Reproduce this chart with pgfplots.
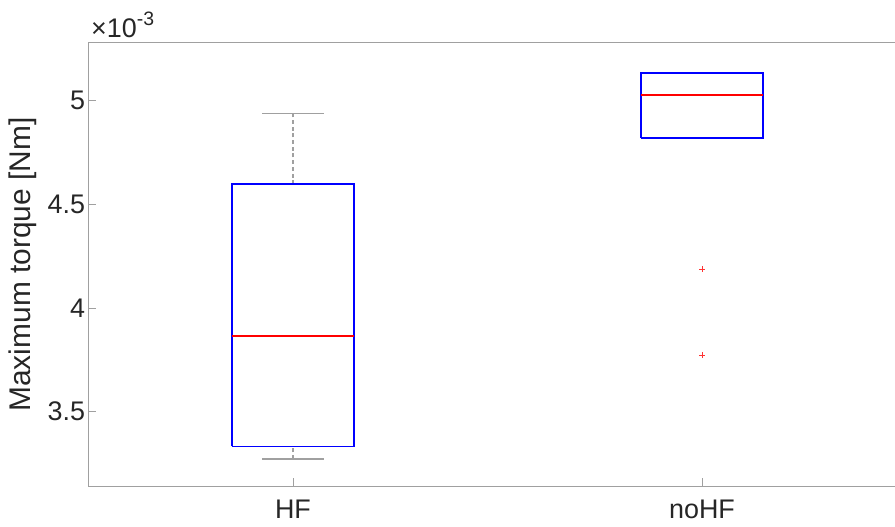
\documentclass[border=0pt]{standalone}
\usepackage{fontspec}
\setmainfont{Liberation Sans}
\usepackage{pgfplots}
\pgfplotsset{compat=1.18}

\definecolor{axgray}{RGB}{160,160,160}
\definecolor{txt}{RGB}{38,38,38}
\definecolor{boxblue}{RGB}{0,0,255}
\definecolor{medred}{RGB}{255,0,0}
\definecolor{capblue}{RGB}{30,30,165}

\begin{document}
\begin{tikzpicture}
\begin{axis}[
  scale only axis,
  width=818bp, height=443.8bp,
  xmin=0.5, xmax=2.5,
  ymin=0.003139, ymax=0.005280,
  axis x line*=box, axis y line*=left,
  xtick={1,2}, xticklabels={HF,noHF},
  ytick={0.0035,0.004,0.0045,0.005},
  scaled y ticks=base 10:3,
  ytick scale label code/.code={\fontsize{27}{32}\selectfont ×10\raisebox{12bp}{\fontsize{19.5}{22}\selectfont -3}},
  every y tick scale label/.style={at={(axis description cs:0,1)}, anchor=base west, inner sep=0pt, xshift=2.5bp, yshift=5bp, color=txt},
  /pgf/number format/assume math mode=true,
  tick label style={font=\fontsize{27}{32}\selectfont, color=txt},
  xticklabel style={yshift=-10bp},
  xtick pos=bottom, ytick pos=left,
  tick align=inside,
  major tick length=8bp,
  tick style={axgray, line width=0.8bp},
  axis line style={axgray, line width=1bp},
  ylabel={Maximum torque [Nm]},
  every axis y label/.style={at={(axis description cs:0,0.5)}, rotate=90, anchor=center, yshift=65.5bp, font=\fontsize{30}{34}\selectfont, color=txt},
  whisk/.style={axgray, line width=1.3bp, dash pattern=on 4bp off 2.7bp, no markers},
  cap/.style={axgray, line width=1.3bp, no markers},
  boxline/.style={boxblue, line width=1.8bp, no markers},
  median/.style={medred, line width=1.8bp, no markers},
]
% whiskers
\addplot[whisk] coordinates {(1,0.004597) (1,0.004939)};
\addplot[whisk] coordinates {(1,0.003271) (1,0.003332)};
% whisker caps
\addplot[cap] coordinates {(0.925,0.004939) (1.075,0.004939)};
\addplot[cap] coordinates {(0.925,0.003271) (1.075,0.003271)};
\addplot[cap] coordinates {(1.925,0.004822) (2.075,0.004822)};
\addplot[cap, capblue, line width=1.8bp] coordinates {(1.925,0.005136) (2.075,0.005136)};
% boxes (Q1 to Q3)
\addplot[boxline] coordinates {(0.85,0.003332) (1.15,0.003332) (1.15,0.004597) (0.85,0.004597) (0.85,0.003332)};
\addplot[boxline] coordinates {(1.85,0.004822) (2.15,0.004822) (2.15,0.005134) (1.85,0.005134) (1.85,0.004822)};
% medians
\addplot[median] coordinates {(0.85,0.003865) (1.15,0.003865)};
\addplot[median] coordinates {(1.85,0.005027) (2.15,0.005027)};
% outliers
\addplot[only marks, mark=+, mark size=3bp, color=medred!80, mark options={line width=0.7bp}] coordinates {(2,0.004187) (2,0.003772)};
\end{axis}
\pgfresetboundingbox
\useasboundingbox (-88.5bp,-40.5bp) rectangle (806.5bp,486.5bp);
\end{tikzpicture}
\end{document}
